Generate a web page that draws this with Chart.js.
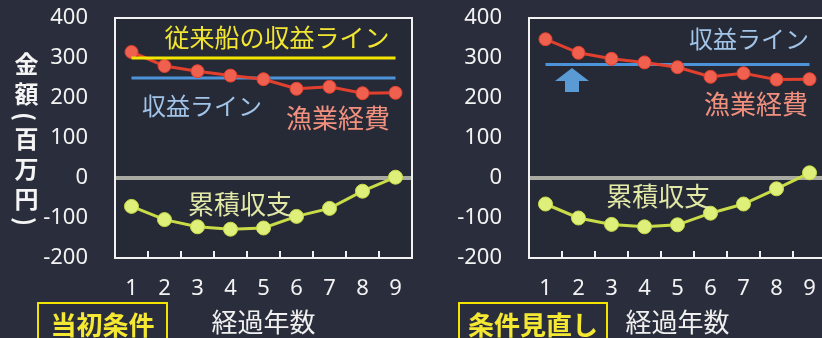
<!DOCTYPE html>
<html lang="ja">
<head>
<meta charset="utf-8">
<script src="https://cdn.jsdelivr.net/npm/chart.js@4"></script>
<style>
    html, body { margin: 0; padding: 0; width: 822px; height: 338px; overflow: hidden; background: #2a2e3c; }
    body { position: relative; font-family: "Noto Sans CJK JP", "Noto Sans", sans-serif; }
    canvas { position: absolute; top: 0; }
    #leftChart { left: 0; }
    #rightChart { left: 414px; }
    .yTitle { position: absolute; left: 14px; top: 52px; writing-mode: vertical-rl; font-size: 24px; font-weight: bold; color: #f4f4f4; letter-spacing: 6px; line-height: 1; }
    .condBox { position: absolute; top: 302px; height: 40px; border: 2px solid #f2e400; box-sizing: border-box; color: #f5e833; font-size: 26px; font-weight: bold; line-height: 1; padding-top: 7px; text-align: center; }
    .arrow { position: absolute; left: 555px; top: 68px; }
</style>
</head>
<body>
<canvas id="leftChart" width="414" height="338"></canvas>
<canvas id="rightChart" width="414" height="338"></canvas>
<div class="yTitle">金額(百万円)</div>
<div class="condBox" style="left:37px; width:131px;">当初条件</div>
<div class="condBox" style="left:458px; width:150px;">条件見直し</div>
<svg class="arrow" width="34" height="24" viewBox="0 0 34 24">
    <polygon points="17,0 34,13 24,13 24,24 10,24 10,13 0,13" fill="#5b9bd5"/>
</svg>
<script>
// years (x axis)
const years = ['1', '2', '3', '4', '5', '6', '7', '8', '9'];
const yTicks = [-200, -100, 0, 100, 200, 300, 400];

// 当初条件
const leftCost = [315, 280, 267, 256, 247, 223, 228, 212, 213];
const leftBalance = [-71, -104, -122, -128, -125, -96, -76, -33, 2];
const leftRevenue = 250;
const leftOldRevenue = 300;

// 条件見直し
const rightCost = [347, 313, 298, 289, 277, 253, 262, 246, 247];
const rightBalance = [-65, -100, -116, -122, -117, -88, -65, -27, 13];
const rightRevenue = 284;

const COLORS = {
    cost: '#e2402f', costPoint: '#f0604e',
    balance: '#c9dc48', balancePoint: '#def07a',
    revenue: '#4d93d9', oldRevenue: '#f2e600',
    zero: '#a9aba3', frame: '#f2f2f2', plot: '#262a37'
};

// plot background, white frame and inner tick marks
const framePlugin = {
    id: 'frame',
    beforeDraw(chart) {
        const { ctx, chartArea: a } = chart;
        ctx.save();
        ctx.fillStyle = COLORS.plot;
        ctx.fillRect(a.left, a.top, a.right - a.left, a.bottom - a.top);
        ctx.restore();
    },
    afterDatasetsDraw(chart) {
        const { ctx, chartArea: a, scales } = chart;
        ctx.save();
        ctx.strokeStyle = COLORS.frame;
        ctx.lineWidth = 2;
        ctx.strokeRect(a.left, a.top, a.right - a.left, a.bottom - a.top);
        for (let i = 1; i < years.length; i++) {
            const x = (scales.x.getPixelForTick(i - 1) + scales.x.getPixelForTick(i)) / 2;
            ctx.beginPath();
            ctx.moveTo(x, a.bottom);
            ctx.lineTo(x, a.bottom - 7);
            ctx.stroke();
        }
        ctx.restore();
    }
};

// text labels placed at (category index, value)
const notesPlugin = {
    id: 'notes',
    afterDraw(chart, args, opts) {
        const { ctx, scales } = chart;
        ctx.save();
        ctx.textBaseline = 'middle';
        ctx.textAlign = 'left';
        (opts.items || []).forEach(n => {
            ctx.font = `${n.size}px "Noto Sans CJK JP"`;
            ctx.fillStyle = n.color;
            ctx.fillText(n.text, scales.x.getPixelForValue(n.x), scales.y.getPixelForValue(n.y));
        });
        ctx.restore();
    }
};

const flat = (v) => years.map(() => v);

function makeChart(id, cost, balance, lines, notes) {
    const datasets = [
        {
            data: cost, borderColor: COLORS.cost, borderWidth: 3,
            pointRadius: 6.5, pointBackgroundColor: COLORS.costPoint, pointBorderColor: COLORS.cost, pointBorderWidth: 1,
            order: 1
        },
        {
            data: balance, borderColor: COLORS.balance, borderWidth: 3,
            pointRadius: 7, pointBackgroundColor: COLORS.balancePoint, pointBorderColor: COLORS.balance, pointBorderWidth: 1,
            order: 1
        }
    ];
    lines.forEach(l => datasets.push({
        data: flat(l.value), borderColor: l.color, borderWidth: 3, pointRadius: 0, order: l.order
    }));

    return new Chart(document.getElementById(id), {
        type: 'line',
        data: { labels: years, datasets: datasets },
        options: {
            responsive: false, animation: false, devicePixelRatio: 1,
            layout: { autoPadding: false, padding: { top: 18, right: 2, left: 0, bottom: 0 } },
            elements: { line: { tension: 0 } },
            plugins: { legend: { display: false }, tooltip: { enabled: false }, notes: { items: notes } },
            scales: {
                x: {
                    offset: true,
                    grid: {
                        display: true, drawOnChartArea: false, color: 'transparent',
                        drawTicks: true, tickLength: 18, tickColor: 'transparent'
                    },
                    border: { display: false },
                    ticks: { color: '#f2f2f2', font: { family: 'Noto Sans', size: 22 }, padding: 0 },
                    title: {
                        display: true, text: '経過年数', color: '#f0f0f0',
                        font: { family: 'Noto Sans CJK JP', size: 26, lineHeight: 1.1 },
                        padding: { top: 0, bottom: 2 }
                    },
                    afterFit: (s) => { s.height = 80; s.paddingLeft = 0; s.paddingRight = 0; }
                },
                y: {
                    min: -200, max: 400,
                    afterBuildTicks: (s) => { s.ticks = yTicks.map(v => ({ value: v })); },
                    grid: {
                        drawTicks: true, tickLength: 27, tickColor: 'transparent',
                        color: (c) => c.tick && c.tick.value === 0 ? COLORS.zero : 'transparent',
                        lineWidth: (c) => c.tick && c.tick.value === 0 ? 4 : 0
                    },
                    border: { display: false },
                    ticks: { color: '#f2f2f2', font: { family: 'Noto Sans', size: 22 }, padding: 0 },
                    afterFit: (s) => { s.width = 115; }
                }
            }
        },
        plugins: [framePlugin, notesPlugin]
    });
}

makeChart('leftChart', leftCost, leftBalance,
    [
        { value: leftOldRevenue, color: COLORS.oldRevenue, order: 0 },
        { value: leftRevenue, color: COLORS.revenue, order: 2 }
    ],
    [
        { text: '従来船の収益ライン', x: 1.0, y: 351, size: 25, color: '#f2e630' },
        { text: '収益ライン', x: 0.32, y: 180, size: 24, color: '#a2c4e8' },
        { text: '漁業経費', x: 4.68, y: 149, size: 26, color: '#f2907e' },
        { text: '累積収支', x: 1.71, y: -65, size: 26, color: '#e2e9a6' }
    ]);

makeChart('rightChart', rightCost, rightBalance,
    [
        { value: rightRevenue, color: COLORS.revenue, order: 2 }
    ],
    [
        { text: '収益ライン', x: 4.35, y: 347, size: 24, color: '#a2c4e8' },
        { text: '漁業経費', x: 4.8, y: 185, size: 26, color: '#f2907e' },
        { text: '累積収支', x: 1.84, y: -46, size: 26, color: '#e2e9a6' }
    ]);
</script>
</body>
</html>
